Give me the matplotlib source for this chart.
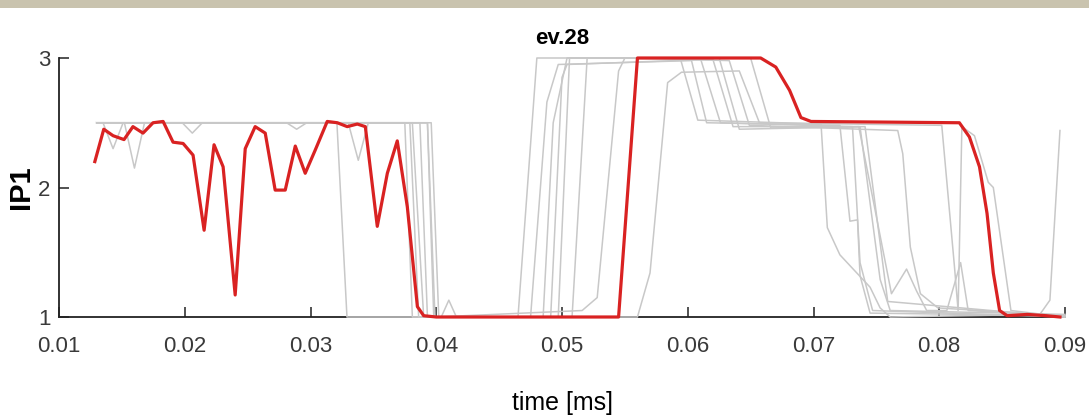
import matplotlib
matplotlib.use('Agg')
import matplotlib.pyplot as plt
from matplotlib.patches import Rectangle

# red trace (ev.28)
red_t = [0.01285, 0.01356, 0.01430, 0.01517, 0.01588, 0.01668, 0.01748, 0.01828, 0.01907, 0.01987,
         0.02066, 0.02154, 0.02233, 0.02305, 0.02401, 0.02481, 0.02560, 0.02640, 0.02719, 0.02799,
         0.02879, 0.02958, 0.03038, 0.03133, 0.03213, 0.03292, 0.03372, 0.03436, 0.03531, 0.03611,
         0.03690, 0.03770, 0.03850, 0.03900, 0.0400, 0.0545, 0.0560, 0.0658, 0.0670, 0.0681,
         0.0690, 0.0698, 0.0816, 0.0824, 0.0832, 0.0838, 0.0843, 0.0848, 0.0854, 0.0870,
         0.0885, 0.0896]
red_ip = [2.20, 2.45, 2.40, 2.37, 2.47, 2.42, 2.50, 2.51, 2.35, 2.34,
          2.25, 1.67, 2.33, 2.16, 1.17, 2.30, 2.47, 2.42, 1.98, 1.98,
          2.32, 2.11, 2.29, 2.51, 2.50, 2.47, 2.49, 2.47, 1.70, 2.11,
          2.36, 1.85, 1.08, 1.01, 1.00, 1.00, 3.00, 3.00, 2.93, 2.75,
          2.54, 2.51, 2.50, 2.39, 2.16, 1.80, 1.34, 1.05, 1.01, 1.02,
          1.01, 1.00]

# gray traces (other events)
g1_t = [0.0130, 0.0321, 0.0329, 0.0465, 0.0480, 0.0594, 0.0608, 0.0706, 0.0711, 0.0721, 0.0745, 0.0753, 0.0761, 0.0880, 0.0888, 0.0896]
g1_ip = [2.50, 2.50, 1.00, 1.00, 3.00, 3.00, 2.52, 2.49, 1.69, 1.48, 1.23, 1.07, 1.00, 1.02, 1.13, 2.44]

g2_t = [0.0130, 0.0135, 0.0143, 0.0151, 0.0375, 0.0381, 0.0475, 0.0488, 0.0497, 0.0603, 0.0615, 0.0721, 0.0729, 0.0735, 0.0737, 0.0745, 0.0900]
g2_ip = [2.50, 2.50, 2.30, 2.50, 2.50, 1.00, 1.00, 2.66, 2.95, 2.98, 2.50, 2.48, 1.74, 1.75, 1.32, 1.03, 1.01]

g3_t = [0.0130, 0.0152, 0.0160, 0.0168, 0.0379, 0.0386, 0.0485, 0.0493, 0.0504, 0.0610, 0.0626, 0.0731, 0.0737, 0.0747, 0.0900]
g3_ip = [2.50, 2.50, 2.15, 2.50, 2.50, 1.00, 1.00, 2.50, 3.00, 3.00, 2.50, 2.47, 1.42, 1.05, 1.00]

g4_t = [0.0130, 0.0198, 0.0206, 0.0214, 0.0381, 0.0390, 0.0404, 0.0410, 0.0416, 0.0491, 0.0500, 0.0504, 0.0620, 0.0636, 0.0737, 0.0753, 0.0761, 0.0900]
g4_ip = [2.50, 2.50, 2.42, 2.50, 2.50, 1.00, 1.00, 1.13, 1.00, 1.00, 2.85, 2.95, 2.99, 2.47, 2.47, 1.29, 1.05, 1.02]

g5_t = [0.0130, 0.0281, 0.0289, 0.0297, 0.0387, 0.0393, 0.0508, 0.0520, 0.0625, 0.0641, 0.0741, 0.0759, 0.0900]
g5_ip = [2.50, 2.50, 2.45, 2.50, 2.50, 1.00, 1.00, 3.00, 3.00, 2.45, 2.47, 1.12, 1.00]

g6_t = [0.0130, 0.0330, 0.0338, 0.0346, 0.0393, 0.0399, 0.0516, 0.0528, 0.0545, 0.0550, 0.0633, 0.0649, 0.0767, 0.0771, 0.0777, 0.0785, 0.0799, 0.0900]
g6_ip = [2.50, 2.50, 2.21, 2.50, 2.50, 1.00, 1.05, 1.15, 2.90, 3.00, 2.98, 2.48, 2.44, 2.26, 1.54, 1.18, 1.07, 1.01]

g7_t = [0.0130, 0.0396, 0.0402, 0.0560, 0.0570, 0.0584, 0.0595, 0.0641, 0.0657, 0.0802, 0.0812, 0.0815, 0.0818, 0.0828, 0.0839, 0.0843, 0.0857, 0.0900]
g7_ip = [2.50, 2.50, 1.00, 1.00, 1.34, 2.81, 2.89, 2.90, 2.50, 2.48, 1.40, 1.05, 2.47, 2.40, 2.04, 2.00, 1.05, 1.00]

g8_t = [0.0130, 0.0393, 0.0398, 0.0497, 0.0506, 0.0650, 0.0666, 0.0736, 0.0762, 0.0774, 0.0782, 0.0790, 0.0806, 0.0817, 0.0823, 0.0900]
g8_ip = [2.50, 2.50, 1.00, 1.00, 3.00, 3.00, 2.46, 2.47, 1.18, 1.37, 1.20, 1.05, 1.05, 1.42, 1.05, 1.01]

gray_t = [g1_t, g2_t, g3_t, g4_t, g5_t, g6_t, g7_t, g8_t]
gray_ip = [g1_ip, g2_ip, g3_ip, g4_ip, g5_ip, g6_ip, g7_ip, g8_ip]

xticks = [0.01, 0.02, 0.03, 0.04, 0.05, 0.06, 0.07, 0.08, 0.09]
xticklabels = ['0.01', '0.02', '0.03', '0.04', '0.05', '0.06', '0.07', '0.08', '0.09']
yticks = [1, 2, 3]

plt.rcParams['font.family'] = ['Liberation Sans', 'DejaVu Sans']

fig = plt.figure(figsize=(10.89, 4.18), dpi=100)
# strip at the top of the screenshot
fig.patches.append(Rectangle((0, 1 - 8 / 418), 1, 8 / 418, transform=fig.transFigure,
                             facecolor='#c9c3ae', edgecolor='none'))

ax = fig.add_axes([59 / 1089, (418 - 317) / 418, (1065 - 59) / 1089, (317 - 58) / 418])

for t, ip in zip(gray_t, gray_ip):
    ax.plot(t, ip, color='#c8c8c8', lw=1.1, zorder=3, clip_on=False)
ax.plot(red_t, red_ip, color='#d92222', lw=2.3, zorder=4, clip_on=False)

ax.set_xlim(0.01, 0.09)
ax.set_ylim(1, 3)
ax.set_xticks(xticks)
ax.set_xticklabels(xticklabels)
ax.set_yticks(yticks)

for s in ['top', 'right']:
    ax.spines[s].set_visible(False)
for s in ['left', 'bottom']:
    ax.spines[s].set_color('#222222')
    ax.spines[s].set_linewidth(1.3)

ax.tick_params(direction='in', length=7, width=1.1, color='#222222',
               labelsize=16, labelcolor='#3a3a3a')
ax.tick_params(axis='x', pad=14)
ax.tick_params(axis='y', pad=6)

ax.set_title('ev.28', fontsize=16, fontweight='bold', pad=10)
ax.set_ylabel('IP1', fontsize=21, fontweight='bold', labelpad=2)
ax.set_xlabel('time [ms]', fontsize=18, labelpad=24)

fig.savefig('out.png', dpi=100)
